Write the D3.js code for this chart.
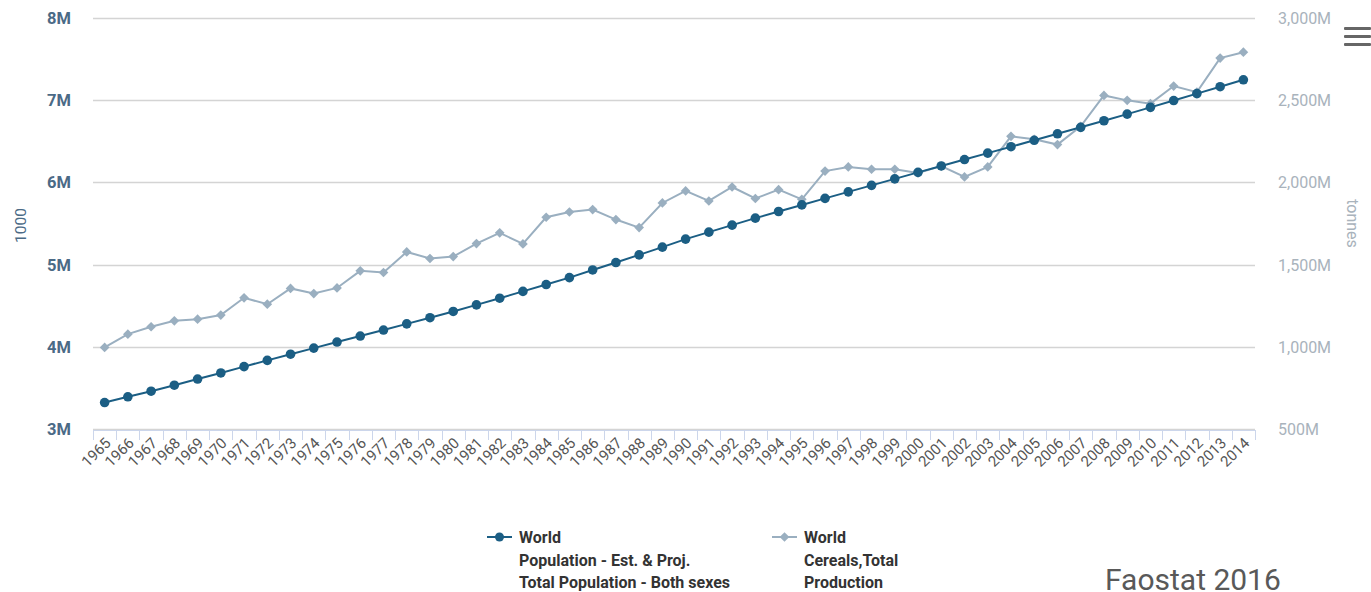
<!DOCTYPE html>
<html>
<head>
<meta charset="utf-8">
<script src="https://cdn.jsdelivr.net/npm/d3@7"></script>
<style>
  html, body { margin: 0; padding: 0; background: #fff; }
  svg { display: block; }
  text { font-family: Roboto, "Open Sans", sans-serif; }
</style>
</head>
<body>
<svg id="chart" width="1371" height="592"></svg>
<script>
// World population (unit: 1000 persons) and world cereal production (million tonnes)
const years = [1965,1966,1967,1968,1969,1970,1971,1972,1973,1974,1975,1976,1977,1978,1979,
  1980,1981,1982,1983,1984,1985,1986,1987,1988,1989,1990,1991,1992,1993,1994,1995,1996,1997,
  1998,1999,2000,2001,2002,2003,2004,2005,2006,2007,2008,2009,2010,2011,2012,2013,2014];

const population = [3322000,3392000,3460000,3533000,3608000,3682000,3759000,3835000,3910000,3984000,
  4058000,4131000,4204000,4279000,4354000,4430000,4510000,4591000,4674000,4757000,
  4842000,4935000,5025000,5118000,5212000,5310000,5395000,5480000,5565000,5646000,
  5726000,5806000,5885000,5964000,6043000,6122000,6200000,6278000,6356000,6434000,
  6512000,6591000,6670000,6750000,6831000,6913000,6996000,7080000,7164000,7248000];

const cereals = [996,1077,1122,1158,1168,1193,1298,1259,1355,1324,
  1358,1462,1452,1577,1537,1549,1628,1693,1626,1788,
  1820,1835,1774,1725,1875,1948,1887,1972,1902,1956,
  1897,2069,2094,2080,2080,2058,2099,2033,2094,2280,
  2262,2230,2341,2529,2499,2479,2586,2549,2756,2792];

const popTicks = [3000000,4000000,5000000,6000000,7000000,8000000];
const cerealTicks = [500,1000,1500,2000,2500,3000];

const popName = ["World", "Population - Est. & Proj.", "Total Population - Both sexes"];
const cerealName = ["World", "Cereals,Total", "Production"];

const svg = d3.select("#chart");
const plot = { left: 93, right: 1255, top: 18, bottom: 429 };

const x = d3.scaleBand().domain(years).range([plot.left, plot.right]).padding(0);
const yPop = d3.scaleLinear().domain([3000000, 8000000]).range([plot.bottom, plot.top]);
const yCer = d3.scaleLinear().domain([500, 3000]).range([plot.bottom, plot.top]);
const cx = d => x(d) + x.bandwidth() / 2;

const popColor = "#1b5e84";
const cerColor = "#9aafc0";

// horizontal grid lines
svg.append("g").selectAll("line").data(popTicks).join("line")
  .attr("x1", plot.left).attr("x2", plot.right)
  .attr("y1", d => Math.round(yPop(d)) + 0.5).attr("y2", d => Math.round(yPop(d)) + 0.5)
  .attr("stroke", "#d4d4d4").attr("stroke-width", 1.5);

// left axis labels
svg.append("g").selectAll("text").data(popTicks).join("text")
  .attr("x", 71).attr("y", d => yPop(d) + 6)
  .attr("text-anchor", "end")
  .attr("font-size", 16.5).attr("font-weight", 700)
  .attr("fill", "#4b6a86")
  .text(d => d3.format("d")(d / 1e6) + "M");

// right axis labels
svg.append("g").selectAll("text").data(cerealTicks).join("text")
  .attr("x", 1278).attr("y", d => yCer(d) + 6)
  .attr("text-anchor", "start")
  .attr("font-size", 16)
  .attr("fill", "#a9b3bc")
  .text(d => d3.format(",")(d) + "M");

// axis titles
svg.append("text")
  .attr("transform", `translate(26,${(plot.top + plot.bottom) / 2 + 2}) rotate(-90)`)
  .attr("text-anchor", "middle").attr("font-size", 15.5)
  .attr("fill", "#4b6a86").text("1000");
svg.append("text")
  .attr("transform", `translate(1347,${(plot.top + plot.bottom) / 2}) rotate(90)`)
  .attr("text-anchor", "middle").attr("font-size", 16)
  .attr("fill", "#a9b3bc").text("tonnes");

// category axis
const xAxis = d3.axisBottom(x).tickSize(0).tickFormat(d => d);
const gx = svg.append("g").attr("transform", `translate(0,${plot.bottom + 1})`).call(xAxis);
gx.select(".domain").attr("stroke", "#ccd6eb");
gx.selectAll(".tick text")
  .attr("font-family", "Roboto, sans-serif")
  .attr("font-size", 15).attr("fill", "#555")
  .attr("text-anchor", "end")
  .attr("x", 0).attr("y", 0).attr("dy", 0)
  .attr("transform", "translate(7,14) rotate(-45)");
// tick marks on band boundaries
const bounds = years.map(d => x(d)).concat([plot.right]);
svg.append("g").selectAll("line").data(bounds).join("line")
  .attr("x1", d => Math.round(d) + 0.5).attr("x2", d => Math.round(d) + 0.5)
  .attr("y1", plot.bottom + 1).attr("y2", plot.bottom + 11)
  .attr("stroke", "#ccd6eb");

// cereals series (diamonds)
const cerLine = d3.line().x((d, i) => cx(years[i])).y(d => yCer(d));
svg.append("path").datum(cereals)
  .attr("d", cerLine).attr("fill", "none")
  .attr("stroke", cerColor).attr("stroke-width", 2);
const diamond = d3.symbol().type(d3.symbolDiamond2).size(60);
svg.append("g").selectAll("path").data(cereals).join("path")
  .attr("d", diamond)
  .attr("transform", (d, i) => `translate(${cx(years[i])},${yCer(d)})`)
  .attr("fill", cerColor);

// population series (circles)
const popLine = d3.line().x((d, i) => cx(years[i])).y(d => yPop(d));
svg.append("path").datum(population)
  .attr("d", popLine).attr("fill", "none")
  .attr("stroke", popColor).attr("stroke-width", 2);
svg.append("g").selectAll("circle").data(population).join("circle")
  .attr("cx", (d, i) => cx(years[i])).attr("cy", d => yPop(d))
  .attr("r", 4.8).attr("fill", popColor);

// legend
function legendItem(x0, color, isCircle, lines) {
  const g = svg.append("g");
  g.append("line").attr("x1", x0).attr("x2", x0 + 25)
    .attr("y1", 537).attr("y2", 537).attr("stroke", color).attr("stroke-width", 2);
  if (isCircle) {
    g.append("circle").attr("cx", x0 + 12.5).attr("cy", 537).attr("r", 4.5).attr("fill", color);
  } else {
    g.append("path").attr("d", diamond)
      .attr("transform", `translate(${x0 + 12.5},537)`).attr("fill", color);
  }
  g.selectAll("text").data(lines).join("text")
    .attr("x", x0 + 32).attr("y", (d, i) => 543 + i * 22.5)
    .attr("font-size", 16).attr("font-weight", 700).attr("fill", "#333")
    .text(d => d);
}
legendItem(487, popColor, true, popName);
legendItem(772, cerColor, false, cerealName);

// menu icon
svg.append("g").selectAll("rect").data([0, 1, 2]).join("rect")
  .attr("x", 1344).attr("y", d => 27 + d * 8).attr("width", 27).attr("height", 3)
  .attr("rx", 1).attr("fill", "#666");

// source note
svg.append("text").attr("x", 1105).attr("y", 590)
  .attr("font-family", "'Liberation Sans', Arial, sans-serif")
  .attr("font-size", 30).attr("fill", "#595959")
  .text("Faostat 2016");
</script>
</body>
</html>
